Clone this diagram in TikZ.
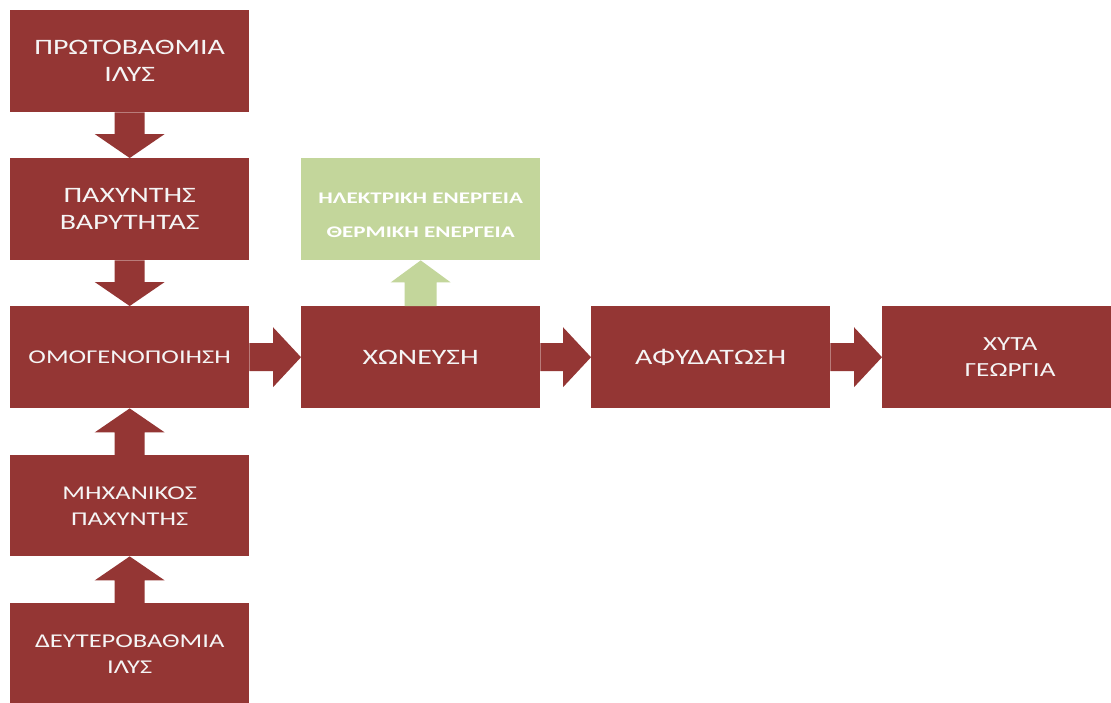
\documentclass[tikz,border=0pt]{standalone}
\usepackage{fontspec}
\setmainfont{Carlito}
\newfontfamily\widefont[FakeStretch=1.36]{Carlito}
\newfontfamily\greenfont[FakeStretch=1.42]{Carlito}
\usetikzlibrary{calc}
\definecolor{boxred}{HTML}{943634}
\definecolor{boxgreen}{HTML}{C3D69B}
% #1 start, #2 tip, #3 colour, #4 shaft half width, #5 head half width, #6 head length
\newcommand{\blockarrow}[6]{%
  \path (#1) coordinate (ba-s) (#2) coordinate (ba-t);
  \path ($(ba-t)!#6pt!(ba-s)$) coordinate (ba-h);
  \fill[#3] ($(ba-s)!#4pt!90:(ba-t)$) -- ($(ba-h)!#4pt!90:(ba-t)$) --
    ($(ba-h)!#5pt!90:(ba-t)$) -- (ba-t) -- ($(ba-h)!#5pt!-90:(ba-t)$) --
    ($(ba-h)!#4pt!-90:(ba-t)$) -- ($(ba-s)!#4pt!-90:(ba-t)$) -- cycle;
}
\begin{document}
\begin{tikzpicture}[x=1pt,y=-1pt,
  redbox/.style={fill=boxred, text=white!96!black, minimum width=239pt, minimum height=102pt,
    inner sep=0pt, align=center, anchor=north west,
    font=\widefont\fontsize{22}{27}\selectfont},
  smalltext/.style={font=\widefont\fontsize{19.5}{26}\selectfont},
  greenbox/.style={fill=boxgreen, text=white, minimum width=239pt, minimum height=102pt,
    inner sep=0pt, align=center, anchor=north west,
    font=\greenfont\bfseries\fontsize{16.2}{34}\selectfont}]
\useasboundingbox (0,0) rectangle (1111,702);
\clip (0,0) rectangle (1111,702);
\fill[white] (0,0) rectangle (1111,702);

\node[redbox] (p) at (10,10) {ΠΡΩΤΟΒΑΘΜΙΑ\\ΙΛΥΣ};
\node[redbox] (g) at (10,158) {ΠΑΧΥΝΤΗΣ\\ΒΑΡΥΤΗΤΑΣ};
\node[redbox, smalltext] (o) at (10,306) {ΟΜΟΓΕΝΟΠΟΙΗΣΗ};
\node[redbox, smalltext, minimum height=101pt] (m) at (10,455) {ΜΗΧΑΝΙΚΟΣ\\ΠΑΧΥΝΤΗΣ};
\node[redbox, smalltext] (d) at (10,603) {ΔΕΥΤΕΡΟΒΑΘΜΙΑ\\ΙΛΥΣ};
\node[redbox] (x) at (301,306) {ΧΩΝΕΥΣΗ};
\node[greenbox] (e) at (301,158) {\rule{0pt}{22pt}ΗΛΕΚΤΡΙΚΗ ΕΝΕΡΓΕΙΑ\\ΘΕΡΜΙΚΗ ΕΝΕΡΓΕΙΑ};
\node[redbox] (a) at (591,306) {ΑΦΥΔΑΤΩΣΗ};
\node[redbox, font=\widefont\fontsize{20}{26}\selectfont, minimum width=256pt] (y) at (882,306) {ΧΥΤΑ\\ΓΕΩΡΓΙΑ};

\blockarrow{p.south}{g.north}{boxred}{15}{35}{24}
\blockarrow{g.south}{o.north}{boxred}{15}{35}{24}
\blockarrow{m.north}{o.south}{boxred}{15}{35}{24}
\blockarrow{d.north}{m.south}{boxred}{15}{35}{24}
\blockarrow{o.east}{x.west}{boxred}{14}{30}{28}
\blockarrow{x.east}{a.west}{boxred}{14}{30}{28}
\blockarrow{a.east}{y.west}{boxred}{14}{30}{28}
\blockarrow{x.north}{e.south}{boxgreen}{16}{30}{22}
\end{tikzpicture}
\end{document}
